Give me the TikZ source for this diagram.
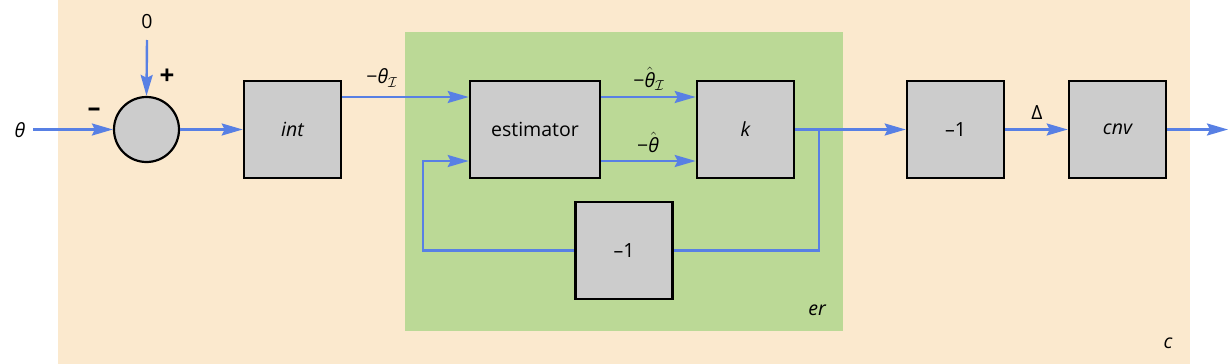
\documentclass[tikz,border=0pt]{standalone}
\usepackage{fontspec}
\setmainfont{Open Sans}
\usetikzlibrary{arrows.meta}
\definecolor{tanbg}{RGB}{251,233,206}
\definecolor{grnbg}{RGB}{187,217,150}
\definecolor{wirec}{RGB}{88,128,228}
\definecolor{boxg}{RGB}{204,204,204}
\newcommand{\thI}{\hbox{\itshape θ}}
\begin{document}
\begin{tikzpicture}[x=1pt,y=-1pt,
  font=\fontsize{19.5}{23}\selectfont,
  blk/.style={draw=black, line width=2.6pt, fill=boxg, minimum width=97pt, minimum height=97pt, inner sep=0pt},
  sumc/.style={circle, draw=black, line width=2.2pt, fill=boxg, minimum size=65pt, inner sep=0pt},
  wire/.style={draw=wirec, line width=2.4pt},
  arr/.style={wire, -{Stealth[length=21pt,width=12pt,inset=3pt]}},
  lbl/.style={inner sep=0pt}]
\useasboundingbox (0,0) rectangle (1232,364);
% backgrounds
\fill[tanbg] (58,0) rectangle (1190,364);
\fill[grnbg] (405,32) rectangle (843,331);
% nodes
\node[sumc] (sum) at (146.5,129.5) {};
\node[blk] (int) at (292.5,129.5) {\itshape int};
\node[blk, minimum width=130pt] (est) at (535,129.5) {estimator};
\node[blk] (k) at (745.5,129.5) {\itshape k};
\node[blk] (negb) at (624,250.5) {–1};
\node[blk] (negr) at (955.5,129.5) {–1};
\node[blk] (cnv) at (1117.5,129.5) {\itshape cnv};
% labels
\node[lbl] (th) at (20,130) {\itshape θ};
\node[lbl] (zero) at (147,22) {0};
\node[lbl, font=\fontsize{26}{28}\selectfont] (plus) at (167,77) {\textbf{+}};
\node[lbl, font=\fontsize{26}{28}\selectfont] (minus) at (94,112) {\textbf{–}};
\node[lbl] (lthI) at (382,78) {−$\thI_{\mathcal{I}}$};
\node[lbl] (lhthI) at (649,79) {−$\hat{\thI}_{\mathcal{I}}$};
\node[lbl] (lhth) at (648,142) {−$\hat{\thI}$};
\node[lbl] (ldel) at (1037,113) {Δ};
\node[lbl] (ler) at (817,310) {\itshape er};
\node[lbl] (lc) at (1168,343) {\itshape c};
% coordinates
\coordinate (r1) at (0,97);
\coordinate (r2) at (0,161);
\coordinate (thin) at (33,129.5);
\coordinate (zin) at (147,40);
\coordinate (bx) at (819,129.5);
\coordinate (lx) at (423,250.5);
\coordinate (out) at (1228,129.5);
% connectors
\draw[arr] (thin) -- (sum.west);
\draw[arr] (zin) -- (sum.north);
\draw[arr] (sum.east) -- (int.west);
\draw[arr] (int.east |- r1) -- (est.west |- r1);
\draw[arr] (est.east |- r1) -- (k.west |- r1);
\draw[arr] (est.east |- r2) -- (k.west |- r2);
\draw[arr] (k.east) -- (negr.west);
\draw[wire] (bx) |- (negb.east);
\draw[arr] (negb.west) -- (lx) |- (est.west |- r2);
\draw[arr] (negr.east) -- (cnv.west);
\draw[arr] (cnv.east) -- (out);
\end{tikzpicture}
\end{document}
